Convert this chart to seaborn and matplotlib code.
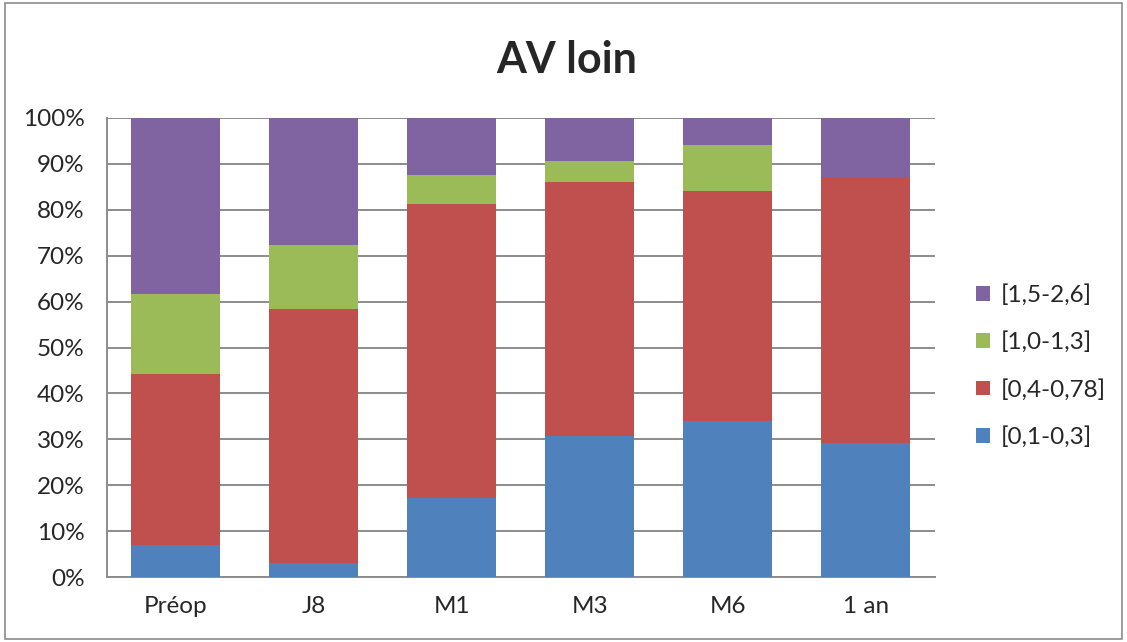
import numpy as np
import pandas as pd
import matplotlib
matplotlib.use("Agg")
import matplotlib.pyplot as plt
import seaborn as sns
from matplotlib.patches import Rectangle, Patch

sns.set_style("white")
plt.rcParams['font.family'] = ['Lato', 'DejaVu Sans']

# Data (percent of patients per visual acuity class)
categories = ["Préop", "J8", "M1", "M3", "M6", "1 an"]
series_names = ["[0,1-0,3]", "[0,4-0,78]", "[1,0-1,3]", "[1,5-2,6]"]
blue_vals = [7.0, 3.0, 17.2, 30.7, 34.0, 29.2]
red_vals = [37.2, 55.4, 64.0, 55.4, 50.0, 57.9]
green_vals = [17.4, 13.9, 6.4, 4.6, 10.1, 0.0]
purple_vals = [38.4, 27.7, 12.4, 9.3, 5.9, 12.9]
colors = ["#4F81BD", "#C0504D", "#9BBB59", "#8064A2"]

df = pd.DataFrame({"cat": categories, series_names[0]: blue_vals,
                   series_names[1]: red_vals, series_names[2]: green_vals,
                   series_names[3]: purple_vals})

fig = plt.figure(figsize=(11.27, 6.42), dpi=100)
ax = fig.add_axes([0.0949, 0.1012, 0.7347, 0.715])

# stacked bars: draw cumulative totals from the top layer down
cum = df[series_names].cumsum(axis=1)
for name, col in reversed(list(zip(series_names, colors))):
    sns.barplot(x=df["cat"], y=cum[name], color=col, width=0.645,
                saturation=1, ax=ax, edgecolor="none", zorder=3)

fs = 17.5
ax.set_ylim(0, 100)
ax.set_xlim(-0.5, 5.5)
ax.set_yticks(np.arange(0, 101, 10))
ax.set_yticklabels([f"{v}%" for v in range(0, 101, 10)], fontsize=fs)
ax.tick_params(axis='x', labelsize=fs, pad=14, length=0)
ax.tick_params(axis='y', pad=16, length=0)
ax.set_xlabel("")
ax.set_ylabel("")
ax.yaxis.grid(True, color="#8c8c8c", linewidth=1.4, zorder=0)
ax.set_axisbelow(True)
for s in ["top", "right"]:
    ax.spines[s].set_visible(False)
for s in ["left", "bottom"]:
    ax.spines[s].set_color("#8c8c8c")
    ax.spines[s].set_linewidth(1.4)

fig.suptitle("AV loin", fontsize=31, fontweight="bold", x=0.503, y=0.937)

handles = [Patch(facecolor=c, edgecolor="none") for c in colors]
fig.legend(handles[::-1], series_names[::-1], loc="center left",
           bbox_to_anchor=(0.847, 0.43), frameon=False, fontsize=fs,
           handlelength=0.55, handleheight=0.55, handletextpad=0.45,
           labelspacing=1.05)

fig.patches.append(Rectangle((0.004, 0.005), 0.992, 0.99, transform=fig.transFigure,
                             fill=False, edgecolor="#8c8c8c", linewidth=1.2))

fig.savefig("out.png", dpi=100)
